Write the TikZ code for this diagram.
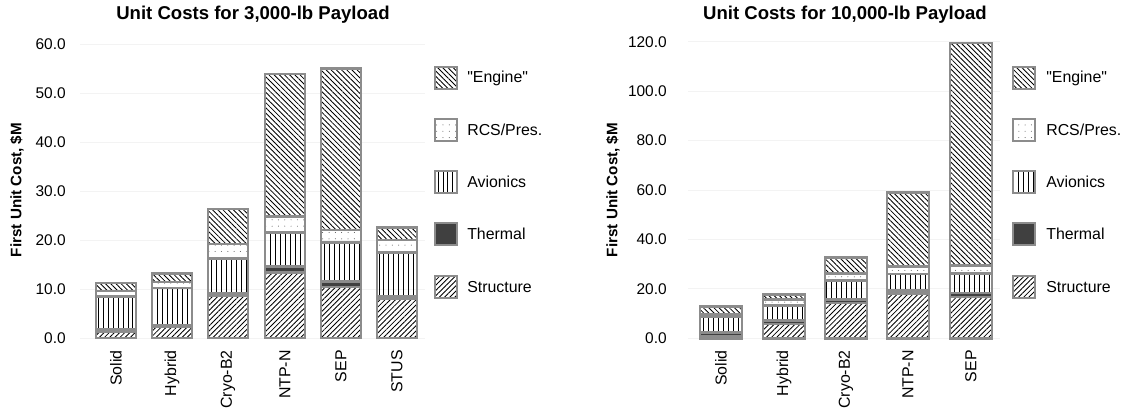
\documentclass[tikz,border=0pt]{standalone}
\usepackage{fontspec}
\setmainfont{Liberation Sans}
\newfontfamily\keyfont{Liberation Sans}
\usetikzlibrary{patterns.meta}
\definecolor{bargray}{HTML}{8C8C8C}
\definecolor{thermgray}{HTML}{404040}
\definecolor{gridgray}{HTML}{F3F3F3}

\begin{document}
\begin{tikzpicture}[x=0.025cm, y=0.025cm,
    seg/.style={draw=bargray, line width=1.8pt},
    engine/.style={seg, pattern={Lines[angle=-45,distance=2.6pt,line width=0.6pt]}},
    rcs/.style={seg, pattern={Dots[distance=4.5pt,radius=0.35pt]}, pattern color=black!70},
    avion/.style={seg, pattern={Lines[angle=90,distance=3.5pt,line width=0.6pt]}},
    therm/.style={seg, fill=thermgray},
    struct/.style={seg, pattern={Lines[angle=45,distance=2.6pt,line width=0.6pt]}},
    gline/.style={gridgray, line width=0.6pt},
    ticklbl/.style={anchor=east, inner sep=0pt, font=\fontsize{11}{13}\selectfont},
    cat/.style={rotate=90, anchor=east, inner sep=0pt, font=\fontsize{11.3}{13}\selectfont},
    ylbl/.style={rotate=90, inner sep=0pt, font=\bfseries\fontsize{10.8}{13}\selectfont},
    ttl/.style={inner sep=0pt, font=\bfseries\fontsize{13.2}{16}\selectfont},
    keytxt/.style={anchor=west, inner sep=0pt, font=\keyfont\fontsize{11.3}{13}\selectfont}]
    \useasboundingbox (0,0) rectangle (1125,416);

  % 3,000-lb payload
    \node(t3k) at (253,401) [ttl] {Unit Costs for 3,000-lb Payload};
    \node(y3k) at (17,226) [ylbl] {First Unit Cost, \$M};
  \begin{scope}[shift={(0,78)}, y=0.1225cm]
    \draw[gline] (80,0) -- (425,0);
    \draw[gline] (80,10) -- (425,10);
    \draw[gline] (80,20) -- (425,20);
    \draw[gline] (80,30) -- (425,30);
    \draw[gline] (80,40) -- (425,40);
    \draw[gline] (80,50) -- (425,50);
    \draw[gline] (80,60) -- (425,60);
    \node(l0) at (66,0) [ticklbl] {0.0};
    \node(l10) at (66,10) [ticklbl] {10.0};
    \node(l20) at (66,20) [ticklbl] {20.0};
    \node(l30) at (66,30) [ticklbl] {30.0};
    \node(l40) at (66,40) [ticklbl] {40.0};
    \node(l50) at (66,50) [ticklbl] {50.0};
    \node(l60) at (66,60) [ticklbl] {60.0};
    % Solid
    \draw[struct] (96,0) rectangle (136,1.3);
    \draw[therm] (96,1.3) rectangle (136,1.7);
    \draw[avion] (96,1.7) rectangle (136,8.5);
    \draw[rcs] (96,8.5) rectangle (136,9.6);
    \draw[engine] (96,9.6) rectangle (136,11.2);
    % Hybrid
    \draw[struct] (152,0) rectangle (192,2.2);
    \draw[therm] (152,2.2) rectangle (192,2.6);
    \draw[avion] (152,2.6) rectangle (192,10.2);
    \draw[rcs] (152,10.2) rectangle (192,11.4);
    \draw[engine] (152,11.4) rectangle (192,13.2);
    % Cryo-B2
    \draw[struct] (208,0) rectangle (248,8.7);
    \draw[therm] (208,8.7) rectangle (248,9.2);
    \draw[avion] (208,9.2) rectangle (248,16.2);
    \draw[rcs] (208,16.2) rectangle (248,19.2);
    \draw[engine] (208,19.2) rectangle (248,26.3);
    % NTP-N
    \draw[struct] (265,0) rectangle (305,13.4);
    \draw[therm] (265,13.4) rectangle (305,14.6);
    \draw[avion] (265,14.6) rectangle (305,21.5);
    \draw[rcs] (265,21.5) rectangle (305,24.8);
    \draw[engine] (265,24.8) rectangle (305,53.9);
    % SEP
    \draw[struct] (321,0) rectangle (361,10.4);
    \draw[therm] (321,10.4) rectangle (361,11.5);
    \draw[avion] (321,11.5) rectangle (361,19.5);
    \draw[rcs] (321,19.5) rectangle (361,22.0);
    \draw[engine] (321,22.0) rectangle (361,55.0);
    % STUS
    \draw[struct] (377,0) rectangle (417,8.1);
    \draw[therm] (377,8.1) rectangle (417,8.6);
    \draw[avion] (377,8.6) rectangle (417,17.4);
    \draw[rcs] (377,17.4) rectangle (417,20.0);
    \draw[engine] (377,20.0) rectangle (417,22.6);
  \end{scope}
    \node(c3k1) at (116,66) [cat] {Solid};
    \node(c3k2) at (172,66) [cat] {Hybrid};
    \node(c3k3) at (228,66) [cat] {Cryo-B2};
    \node(c3k4) at (285,66) [cat] {NTP-N};
    \node(c3k5) at (341,66) [cat] {SEP};
    \node(c3k6) at (397,66) [cat] {STUS};
    \draw[engine] (435,327) rectangle (457,349);
    \draw[rcs] (435,275) rectangle (457,297);
    \draw[avion] (435,223) rectangle (457,245);
    \draw[therm] (435,171) rectangle (457,193);
    \draw[struct] (435,118) rectangle (457,140);
    \node(k3k1) at (467,338) [keytxt] {"Engine"};
    \node(k3k2) at (467,286) [keytxt] {RCS/Pres.};
    \node(k3k3) at (467,234) [keytxt] {Avionics};
    \node(k3k4) at (467,182) [keytxt] {Thermal};
    \node(k3k5) at (467,129) [keytxt] {Structure};

  % 10,000-lb payload
    \node(t10k) at (845,401) [ttl] {Unit Costs for 10,000-lb Payload};
    \node(y10k) at (613,226) [ylbl] {First Unit Cost, \$M};
  \begin{scope}[shift={(0,77.7)}, y=0.06175cm]
    \draw[gline] (688,0) -- (1000,0);
    \draw[gline] (688,20) -- (1000,20);
    \draw[gline] (688,40) -- (1000,40);
    \draw[gline] (688,60) -- (1000,60);
    \draw[gline] (688,80) -- (1000,80);
    \draw[gline] (688,100) -- (1000,100);
    \draw[gline] (688,120) -- (1000,120);
    \node(r0) at (667,0) [ticklbl] {0.0};
    \node(r20) at (667,20) [ticklbl] {20.0};
    \node(r40) at (667,40) [ticklbl] {40.0};
    \node(r60) at (667,60) [ticklbl] {60.0};
    \node(r80) at (667,80) [ticklbl] {80.0};
    \node(r100) at (667,100) [ticklbl] {100.0};
    \node(r120) at (667,120) [ticklbl] {120.0};
    % Solid
    \draw[struct] (700,0) rectangle (742,1.0);
    \draw[therm] (700,1.0) rectangle (742,2.4);
    \draw[avion] (700,2.4) rectangle (742,8.8);
    \draw[rcs] (700,8.8) rectangle (742,9.6);
    \draw[engine] (700,9.6) rectangle (742,12.8);
    % Hybrid
    \draw[struct] (763,0) rectangle (805,5.8);
    \draw[therm] (763,5.8) rectangle (805,7.2);
    \draw[avion] (763,7.2) rectangle (805,13.2);
    \draw[rcs] (763,13.2) rectangle (805,15.6);
    \draw[engine] (763,15.6) rectangle (805,17.8);
    % Cryo-B2
    \draw[struct] (825,0) rectangle (867,14.2);
    \draw[therm] (825,14.2) rectangle (867,15.6);
    \draw[avion] (825,15.6) rectangle (867,23.4);
    \draw[rcs] (825,23.4) rectangle (867,26.3);
    \draw[engine] (825,26.3) rectangle (867,32.7);
    % NTP-N
    \draw[struct] (887,0) rectangle (929,18.2);
    \draw[therm] (887,18.2) rectangle (929,19.4);
    \draw[avion] (887,19.4) rectangle (929,26.0);
    \draw[rcs] (887,26.0) rectangle (929,29.0);
    \draw[engine] (887,29.0) rectangle (929,59.0);
    % SEP
    \draw[struct] (950,0) rectangle (992,16.8);
    \draw[therm] (950,16.8) rectangle (992,18.4);
    \draw[avion] (950,18.4) rectangle (992,26.2);
    \draw[rcs] (950,26.2) rectangle (992,29.4);
    \draw[engine] (950,29.4) rectangle (992,119.5);
  \end{scope}
    \node(c10k1) at (721,66) [cat] {Solid};
    \node(c10k2) at (784,66) [cat] {Hybrid};
    \node(c10k3) at (846,66) [cat] {Cryo-B2};
    \node(c10k4) at (908,66) [cat] {NTP-N};
    \node(c10k5) at (971,66) [cat] {SEP};
    \draw[engine] (1013,327) rectangle (1035,349);
    \draw[rcs] (1013,275) rectangle (1035,297);
    \draw[avion] (1013,223) rectangle (1035,245);
    \draw[therm] (1013,171) rectangle (1035,193);
    \draw[struct] (1013,118) rectangle (1035,140);
    \node(k10k1) at (1046,338) [keytxt] {"Engine"};
    \node(k10k2) at (1046,286) [keytxt] {RCS/Pres.};
    \node(k10k3) at (1046,234) [keytxt] {Avionics};
    \node(k10k4) at (1046,182) [keytxt] {Thermal};
    \node(k10k5) at (1046,129) [keytxt] {Structure};
\end{tikzpicture}
\end{document}
